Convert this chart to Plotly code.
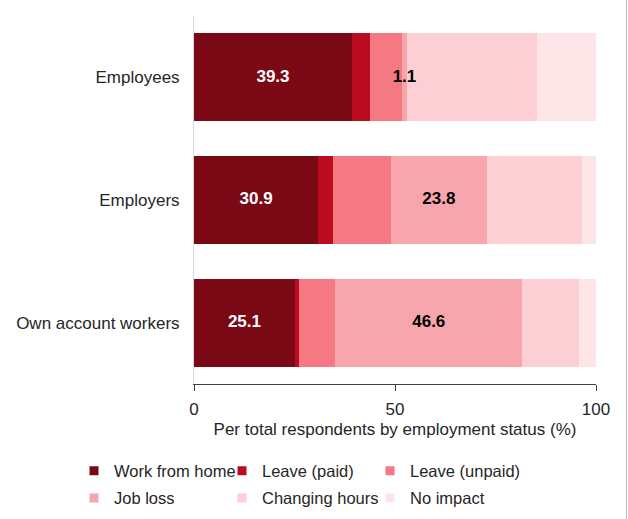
import plotly.graph_objects as go

# Impact of the crisis on work, by employment status (% of respondents)
categories = ["Employees", "Employers", "Own account workers"]

work_from_home = [39.3, 30.9, 25.1]
leave_paid = [4.5, 3.7, 0.9]
leave_unpaid = [8.0, 14.4, 9.1]
job_loss = [1.1, 23.8, 46.6]
changing_hours = [32.3, 23.6, 14.1]
no_impact = [14.8, 3.6, 4.2]

series_names = ["Work from home", "Leave (paid)", "Leave (unpaid)",
                "Job loss", "Changing hours", "No impact"]
series_values = [work_from_home, leave_paid, leave_unpaid,
                 job_loss, changing_hours, no_impact]
series_colors = ["#7B0915", "#BA0C1E", "#F47983",
                 "#F7A6AD", "#FBCFD4", "#FDE5E7"]

FONT = "Liberation Sans, Arial, sans-serif"
TEXT_COLOR = "#262626"

fig = go.Figure()
for name, vals, col in zip(series_names, series_values, series_colors):
    fig.add_trace(go.Bar(
        name=name,
        y=categories,
        x=vals,
        orientation="h",
        marker=dict(color=col, line=dict(width=0)),
        showlegend=False,
        hoverinfo="x+name",
    ))

# Value labels sit at the middle of their segment, drawn above all bars
def segment_middles(series_index):
    mids = []
    for k in range(len(categories)):
        start = sum(series_values[j][k] for j in range(series_index))
        mids.append(start + series_values[series_index][k] / 2)
    return mids

for idx, color in [(0, "#FFFFFF"), (3, "#000000")]:
    vals = series_values[idx]
    fig.add_trace(go.Scatter(
        x=segment_middles(idx),
        y=categories,
        mode="text",
        text=[f"{v:.1f}" for v in vals],
        textposition="middle center",
        textfont=dict(family=FONT, size=17, color=color, weight="bold"),
        showlegend=False,
        hoverinfo="skip",
    ))

# Legend keys: small squares, three per row across two legends
for i, (name, col) in enumerate(zip(series_names, series_colors)):
    last_in_row = i % 3 == 2
    fig.add_trace(go.Scatter(
        x=[None],
        y=[None],
        mode="markers",
        name=name,
        marker=dict(symbol="square", size=9, color=col),
        legend="legend" if i < 3 else "legend2",
        legendwidth=130 if last_in_row else None,
        hoverinfo="skip",
    ))

legend_common = dict(
    orientation="h",
    x=-0.2985,
    xanchor="left",
    yanchor="top",
    entrywidth=103,
    entrywidthmode="pixels",
    traceorder="normal",
    font=dict(size=16.5, color=TEXT_COLOR),
    itemclick=False,
    itemdoubleclick=False,
    bgcolor="rgba(0,0,0,0)",
)

fig.update_layout(
    barmode="stack",
    bargap=0.285,
    width=628,
    height=519,
    margin=dict(l=194, r=32, t=16, b=135, autoexpand=False),
    paper_bgcolor="white",
    plot_bgcolor="white",
    font=dict(family=FONT, size=17, color=TEXT_COLOR),
    xaxis=dict(
        range=[0, 100],
        tickvals=[0, 50, 100],
        showgrid=False,
        zeroline=False,
        showline=True,
        linecolor="#404040",
        linewidth=1,
        ticks="outside",
        ticklen=6,
        tickcolor="#404040",
        ticklabelstandoff=4,
        tickfont=dict(size=17, color=TEXT_COLOR),
        title=dict(text="Per total respondents by employment status (%)",
                   font=dict(size=17, color=TEXT_COLOR), standoff=4),
    ),
    yaxis=dict(
        autorange="reversed",
        showgrid=False,
        zeroline=False,
        showline=True,
        linecolor="#D9D9D9",
        linewidth=1,
        ticks="",
        ticklabelstandoff=10,
        tickfont=dict(size=17, color=TEXT_COLOR),
    ),
    legend=dict(legend_common, y=-0.189),
    legend2=dict(legend_common, y=-0.263),
    shapes=[dict(type="line", xref="paper", yref="paper",
                 x0=1.0759, x1=1.0759, y0=-0.37, y1=1.05,
                 line=dict(color="#BFBFBF", width=1))],
)

fig.write_html("out.html")
